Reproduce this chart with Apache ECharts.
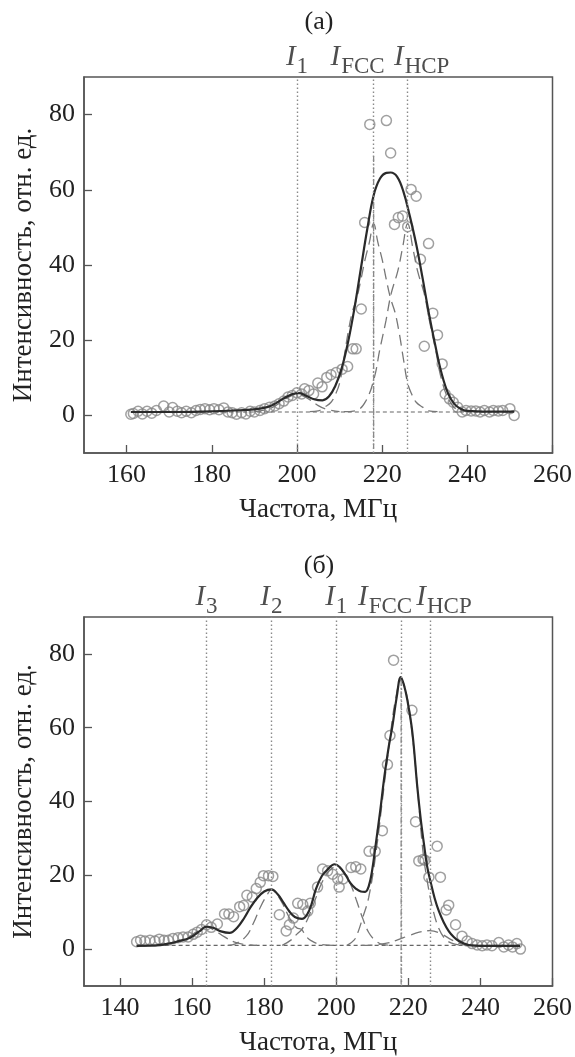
<!DOCTYPE html>
<html><head><meta charset="utf-8">
<script src="https://cdn.jsdelivr.net/npm/echarts@6/dist/echarts.min.js"></script>
<style>html,body{margin:0;padding:0;background:#fff}#c{width:575px;height:1057px}</style>
</head><body><div id="c"></div>
<script>
// ---------- data: panel (а) ----------
const topPoints = [[161,0.3],[161.6,0.5],[162.7,1.1],[163.7,0.4],[164.8,1.1],[165.9,0.6],[167,1.3],[168.7,2.5],[170,0.9],[170.8,2.1],[171.9,1.1],[172.9,0.7],[174,1.1],[175.2,0.7],[176.3,1.3],[177.3,1.6],[178.4,1.8],[179.5,1.5],[180.5,1.8],[181.7,1.5],[182.8,2.0],[183.8,0.9],[184.8,0.7],[185.8,0.3],[187,0.7],[188,0.4],[189,1.1],[190,0.9],[191.3,1.3],[192.4,1.8],[193.6,2.2],[194.8,2.5],[195.8,3.1],[196.9,3.8],[197.9,4.9],[198.9,5.3],[200,6.0],[201.1,5.7],[201.8,7.1],[202.8,6.6],[203.9,5.7],[204.9,8.6],[205.9,7.6],[207,10.1],[208,10.8],[209.2,11.4],[210.6,12.3],[211.9,13.0],[213.1,17.7],[213.9,17.7],[215.1,28.3],[215.9,51.3],[217.1,77.4],[221,78.4],[222,69.8],[222.9,50.8],[223.8,52.6],[224.8,53.0],[226,50.2],[226.8,60.1],[228,58.3],[229,41.5],[229.9,18.4],[230.9,45.7],[231.9,27.2],[233,21.4],[234.1,13.7],[234.8,5.7],[235.8,4.4],[236.7,3.5],[237.7,2.2],[238.8,0.9],[239.7,1.3],[240.9,1.2],[242,1.2],[243,0.9],[244,1.3],[245.2,0.9],[246.1,1.3],[247.3,1.2],[248.3,1.3],[250,1.8],[251,0.0]];
const topFit = [[161,0.9],[170,0.9],[180,1.1],[185,1.3],[190,1.6],[193,2.2],[195,3.2],[197,4.6],[199,5.7],[200.5,5.9],[202,5.3],[204,4.3],[206,4.0],[207.5,5.0],[209,7.8],[210.5,12.5],[212,19.5],[213.5,28.5],[215,39],[216.5,49.5],[218,58.5],[219.5,63],[221,64.5],[222,64.6],[223.5,63.5],[225,59.5],[226.5,53],[228,45.5],[229.5,36.5],[231,27],[232.5,18.5],[234,11],[235.5,5.8],[237,3.0],[238.5,1.7],[240,1.2],[245,1.0],[251,1.0]];
const topCompI1 = [[190,1.0],[193,1.6],[195,2.6],[197,4.2],[199,5.4],[200,5.6],[201,5.4],[203,4.2],[205,2.6],[207,1.6],[210,1.0]];
const topCompFCC = [[203,1.0],[205,1.2],[206.5,2.2],[208,3.5],[209,5.5],[210,8.5],[211,15],[212,22],[213,27.5],[214,31],[215,36],[216,41.5],[217,46],[218,51],[219,46],[220,41.5],[221,36],[222,31],[223,27.5],[224,22],[225,15],[226,8.5],[227,5.5],[228,3.5],[229.5,2.2],[231,1.2],[233,1.0]];
const topCompHCP = [[211,1.0],[213.9,1.3],[216.25,4],[218.2,10.2],[219.4,17.2],[220.9,25.2],[222.1,32.3],[223.7,38.5],[224.8,44.6],[226,51],[227.2,44.6],[228.3,38.5],[229.9,32.3],[231.1,25.2],[232.6,17.2],[233.8,10.2],[235.75,4],[238.1,1.3],[241,1.0]];
const topBaseline = [[161,0.9],[251,0.9]];
const topMarkers = [200, 218, 226];
const topMarkerNames = ['1', 'FCC', 'HCP'];
const topStick = [[218,69],[218,-8.8]];
const topXTicks = [160,180,200,220,240,260];

// ---------- data: panel (б) ----------
const botPoints = [[144.6,2.0],[145.7,2.4],[146.9,2.2],[148.3,2.4],[149.7,2.2],[150.9,2.7],[152.2,2.4],[153.4,2.4],[154.7,2.9],[156.1,3.1],[157.5,3.3],[158.9,3.3],[160.3,4.0],[161.4,4.6],[162.6,5.3],[164,6.6],[165.3,5.9],[167,6.8],[169,9.5],[170.2,9.5],[171.5,8.8],[173.2,11.5],[174.3,11.8],[175.2,14.6],[176.7,14.1],[177.8,16.4],[178.9,18.1],[179.8,19.9],[181.2,19.9],[182.4,19.7],[184.2,9.3],[186.1,4.9],[187,6.6],[188.1,8.4],[189.3,12.4],[190.7,12.1],[192.1,10.3],[192.8,12.4],[194.8,16.8],[196.2,21.7],[197.6,21.2],[199,20.3],[200.4,19.0],[200.8,16.8],[201.9,19.0],[204.1,22.1],[205.4,22.3],[206.8,21.7],[209.1,26.5],[210.8,26.5],[212.8,32.1],[214.2,50.0],[214.9,57.9],[215.9,78.3],[221,64.7],[222,34.5],[222.9,23.9],[224.1,24.3],[224.6,24.1],[225.7,19.5],[228,27.9],[228.9,19.5],[230.5,10.6],[231.2,11.9],[233.1,6.6],[234.9,3.5],[236.3,2.2],[237.7,1.5],[239.1,1.1],[240.5,0.9],[241.8,1.1],[243.2,0.9],[245.1,1.8],[246.5,0.6],[247.8,1.1],[248.9,0.6],[250.1,1.5],[251.1,0.0]];
const botFit = [[144.6,0.9],[150,1.0],[153,1.4],[156,2.1],[159.4,3.1],[162,4.8],[164,6.1],[166,5.7],[168,4.8],[170.4,4.4],[172.5,5.8],[174.5,8.5],[176,11],[178,13.8],[180,15.6],[182,16.2],[183.8,14.8],[185.2,12.8],[187,10.2],[188.5,8.7],[190.5,8.2],[192.5,10.5],[194.4,16.4],[196,19.8],[197.6,21.6],[199.5,23],[201,22.2],[202.7,19.9],[204,17.8],[205.4,16.4],[206.8,15.6],[208,15.5],[209,17],[209.9,21],[211,28.7],[212.2,37.5],[213.3,46.4],[214.5,54.5],[215.6,60.6],[216.8,68.5],[217.9,73.7],[218.8,71.5],[219.7,67.6],[221.1,58.8],[222.5,43.8],[223.4,35.5],[224.3,28.7],[225.2,22.5],[226.2,18.1],[227.3,13.8],[228.5,10.2],[229.8,7.3],[231.2,4.9],[232.6,3.3],[234,2.2],[235.5,1.5],[236.8,1.1],[240,0.9],[251,0.9]];
const botCompI3 = [[150,1.0],[153,1.3],[156,1.9],[159,3.3],[162,5.2],[164,6.0],[166,5.2],[169,3.3],[172,1.8],[175,1.2],[178,1.0]];
const botCompI2 = [[170,1.0],[172,1.4],[175,3.5],[177,7],[179,11.5],[181,15],[182,16.2],[183,15.5],[185,12.5],[187,8.5],[189,5.8],[190.4,5.3],[191.5,3.6],[193,2.3],[196,1.2],[200,1.0]];
const botCompI1 = [[185,1.0],[187.5,2.5],[189,4.0],[190.4,5.3],[192,8],[194,13],[196,18],[198,21.2],[200,22.3],[202,21],[204,17.5],[205.5,13.5],[207.3,8.4],[209,4.5],[211,2.2],[213,1.2],[216,1.0]];
const botCompFCC = [[203,1.0],[205,2.5],[206,4.5],[207.3,8.4],[209,14],[211,26],[213,42],[215,58],[216.5,68],[218,73],[219.5,69],[221,59],[222.5,44],[224,27],[225.5,17],[227,10],[228.5,5.5],[230,3],[232,1.6],[235,1.0]];
const botCompHCP = [[207,1.0],[210,1.1],[214,1.6],[217,2.5],[220,3.6],[223,4.6],[226,5.0],[229,4.2],[232,2.5],[235,1.3],[238,1.0]];
const botBaseline = [[144.6,1.0],[251,1.0]];
const botMarkers = [164, 182, 200, 218, 226];
const botMarkerNames = ['3', '2', '1', 'FCC', 'HCP'];
const botStick = [[218,73],[218,-9.5]];
const botXTicks = [140,160,180,200,220,240,260];

const yTicks = [0,20,40,60,80];
const titles = ['(а)', '(б)'];
const xName = 'Частота, МГц';
const yName = 'Интенсивность, отн. ед.';

// ---------- styling ----------
const FONT = 'Liberation Serif';
const TXT = '#222';
const AX = '#555';
const labelShift = {'FCC': -16, 'HCP': 14};

function xAxisOpt(gi, min, ticks) {
  return {
    type: 'value', gridIndex: gi, min: min, max: 260,
    axisLine: {show: true, onZero: false, lineStyle: {color: AX, width: 1.5}},
    axisTick: {show: true, inside: true, length: 8, customValues: ticks, lineStyle: {color: AX, width: 1.3}},
    axisLabel: {customValues: ticks, fontFamily: FONT, fontSize: 26, color: TXT, margin: 9},
    splitLine: {show: false},
    name: xName, nameLocation: 'middle', nameGap: 43,
    nameTextStyle: {fontFamily: FONT, fontSize: 27, color: TXT}
  };
}
function yAxisOpt(gi) {
  return {
    type: 'value', gridIndex: gi, min: -10, max: 90,
    axisLine: {show: true, onZero: false, lineStyle: {color: AX, width: 1.5}},
    axisTick: {show: true, inside: true, length: 8, customValues: yTicks, lineStyle: {color: AX, width: 1.3}},
    axisLabel: {customValues: yTicks, fontFamily: FONT, fontSize: 26, color: TXT, margin: 9},
    splitLine: {show: false},
    name: yName, nameLocation: 'middle', nameGap: 47,
    nameTextStyle: {fontFamily: FONT, fontSize: 27, color: TXT}
  };
}
const rich = {
  i: {fontFamily: FONT, fontStyle: 'italic', fontSize: 29, color: TXT, verticalAlign: 'bottom', padding: [0, 1, 6, 0]},
  s: {fontFamily: FONT, fontSize: 23, color: TXT, verticalAlign: 'bottom'}
};
function panelSeries(gi, pts, fit, comps, base, stick, markers, names) {
  const s = [];
  s.push({
    type: 'scatter', xAxisIndex: gi, yAxisIndex: gi, data: pts, symbol: 'circle', symbolSize: 10,
    itemStyle: {color: 'rgba(255,255,255,0)', borderColor: '#888', borderWidth: 1.5}, z: 2,
    markLine: {silent: true, symbol: 'none', label: {show: false},
      lineStyle: {color: '#8a8a8a', type: [1.5, 2.5], width: 1.4},
      data: markers.map(v => ({xAxis: v}))}
  });
  s.push({type: 'line', xAxisIndex: gi, yAxisIndex: gi, data: base, showSymbol: false, symbol: 'none',
    lineStyle: {color: '#666', width: 1.2, type: [4, 3]}, z: 3});
  comps.forEach(c => s.push({type: 'line', xAxisIndex: gi, yAxisIndex: gi, data: c, smooth: 0.4, symbol: 'none',
    lineStyle: {color: '#777', width: 1.3, type: [11, 6]}, z: 3}));
  s.push({type: 'line', xAxisIndex: gi, yAxisIndex: gi, data: stick, symbol: 'none',
    lineStyle: {color: '#888', width: 1.3, type: [6, 2, 1.5, 2]}, z: 3});
  s.push({type: 'line', xAxisIndex: gi, yAxisIndex: gi, data: fit, smooth: 0.4, symbol: 'none',
    lineStyle: {color: '#2a2a2a', width: 2.2}, z: 4});
  s.push({type: 'scatter', xAxisIndex: gi, yAxisIndex: gi, symbolSize: 0, clip: false, silent: true,
    data: markers.map((v, k) => ({value: [v, 90], name: names[k],
      label: {offset: [labelShift[names[k]] || 0, 0]}})),
    label: {show: true, position: 'top', distance: -1, rich: rich,
      formatter: p => '{i|I}{s|' + p.name + '}'}});
  return s;
}

const chart = echarts.init(document.getElementById('c'), null, {renderer: 'canvas'});
chart.setOption({
  animation: false,
  backgroundColor: '#fff',
  grid: [
    {left: 84, top: 77, width: 470, height: 376, show: true, borderColor: AX, borderWidth: 1.5, backgroundColor: 'transparent'},
    {left: 84, top: 617, width: 470, height: 376, show: true, borderColor: AX, borderWidth: 1.5, backgroundColor: 'transparent'}
  ],
  xAxis: [xAxisOpt(0, 150, topXTicks), xAxisOpt(1, 130, botXTicks)],
  yAxis: [yAxisOpt(0), yAxisOpt(1)],
  graphic: [
    {type: 'text', x: 319, y: 22, style: {text: titles[0], font: '26px "Liberation Serif"', fill: TXT, textAlign: 'center', textVerticalAlign: 'middle'}},
    {type: 'text', x: 319, y: 566, style: {text: titles[1], font: '26px "Liberation Serif"', fill: TXT, textAlign: 'center', textVerticalAlign: 'middle'}}
  ],
  series: [].concat(
    panelSeries(0, topPoints, topFit, [topCompI1, topCompFCC, topCompHCP], topBaseline, topStick, topMarkers, topMarkerNames),
    panelSeries(1, botPoints, botFit, [botCompI3, botCompI2, botCompI1, botCompFCC, botCompHCP], botBaseline, botStick, botMarkers, botMarkerNames)
  )
});
</script></body></html>
